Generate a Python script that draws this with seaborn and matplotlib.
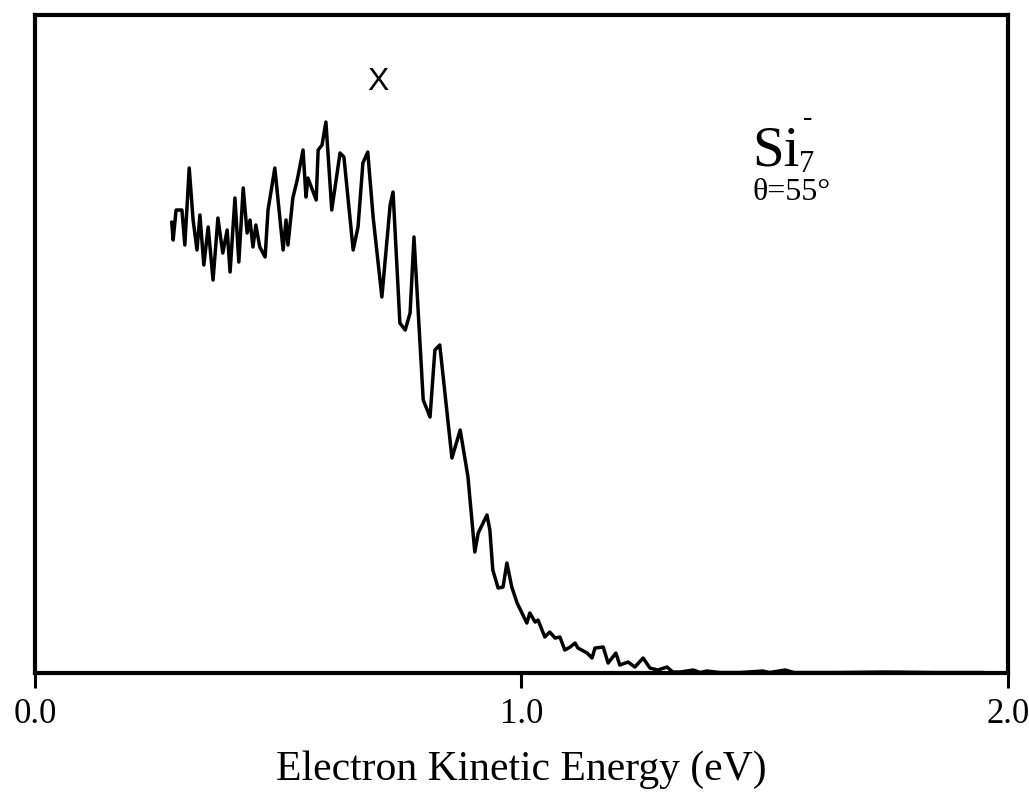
import matplotlib
matplotlib.use("Agg")
import matplotlib.pyplot as plt
import seaborn as sns
import pandas as pd

# Electron kinetic energy (eV) and photoelectron intensity (arb. units)
energy = [0.281, 0.284, 0.290, 0.302, 0.308, 0.317, 0.325, 0.333, 0.339, 0.347,
          0.356, 0.366, 0.376, 0.386, 0.395, 0.401, 0.411, 0.419, 0.428, 0.436,
          0.442, 0.448, 0.454, 0.462, 0.473, 0.479, 0.493, 0.510, 0.516, 0.520,
          0.530, 0.539, 0.551, 0.557, 0.561, 0.578, 0.582, 0.590, 0.598, 0.610,
          0.627, 0.635, 0.654, 0.664, 0.674, 0.684, 0.695, 0.713, 0.730, 0.736,
          0.750, 0.761, 0.771, 0.779, 0.798, 0.812, 0.822, 0.832, 0.857, 0.874,
          0.890, 0.904, 0.911, 0.929, 0.935, 0.941, 0.952, 0.962, 0.970, 0.980,
          0.991, 1.011, 1.017, 1.028, 1.034, 1.048, 1.058, 1.069, 1.079, 1.089,
          1.100, 1.110, 1.116, 1.135, 1.145, 1.151, 1.168, 1.178, 1.194, 1.202,
          1.219, 1.233, 1.250, 1.264, 1.280, 1.299, 1.311, 1.326, 1.353, 1.367,
          1.381, 1.408, 1.450, 1.496, 1.510, 1.542, 1.560, 1.650, 1.750, 1.850,
          1.950]
intensity = [451, 433, 463, 463, 428, 505, 453, 423, 458, 408,
             446, 393, 455, 420, 443, 401, 475, 411, 485, 440,
             453, 426, 448, 426, 416, 463, 505, 423, 453, 428,
             475, 493, 523, 476, 495, 473, 523, 528, 551, 463,
             520, 516, 423, 446, 510, 521, 456, 376, 468, 481,
             350, 343, 360, 436, 273, 256, 323, 328, 215, 243,
             196, 121, 140, 158, 143, 103, 85, 86, 110, 86,
             70, 50, 60, 51, 53, 36, 41, 35, 36, 23,
             26, 30, 25, 20, 15, 25, 26, 10, 20, 8,
             11, 6, 15, 5, 3, 6, 1, 1, 3, 0.5,
             2, 0.5, 0.5, 2, 0.5, 3, 0.5, 0.5, 1, 0.5,
             0.5]

xticks = [0.0, 1.0, 2.0]
xtick_labels = ["0.0", "1.0", "2.0"]

df = pd.DataFrame({"energy": energy, "intensity": intensity})

sns.set_style("white")
plt.rcParams["font.family"] = ["Liberation Serif", "DejaVu Serif"]
plt.rcParams["text.color"] = "black"
plt.rcParams["axes.labelcolor"] = "black"

fig = plt.figure(figsize=(10.29, 8.02), dpi=100)
ax = fig.add_axes([0.034, 0.1608, 0.9456, 0.8205])

sns.lineplot(data=df, x="energy", y="intensity", ax=ax, color="black",
             linewidth=2.5, estimator=None, sort=False)

ax.set_xlim(0, 2.0)
ax.set_ylim(0, 658)
ax.set_xticks(xticks)
ax.set_xticklabels(xtick_labels, fontsize=25, color="black")
ax.set_yticks([])
ax.set_ylabel("")
ax.set_xlabel("Electron Kinetic Energy (eV)", fontsize=30, color="black")
ax.xaxis.set_label_coords(0.5, -0.147)
ax.xaxis.label.set_va("center")
ax.tick_params(axis="x", direction="out", length=11, width=2.2, pad=7,
               bottom=True, colors="black")
for s in ax.spines.values():
    s.set_visible(True)
    s.set_linewidth(3)
    s.set_color("black")

ax.text(0.705, 591, "X", fontsize=23, family=["Liberation Sans", "DejaVu Sans"],
        ha="center", va="center", color="black")
ax.text(1.474, 508, "Si", fontsize=41, ha="left", va="baseline", color="black")
ax.text(1.570, 501, "7", fontsize=22, ha="left", va="baseline", color="black")
ax.text(1.578, 548, "-", fontsize=20, ha="left", va="baseline", color="black")
ax.text(1.474, 481, "θ=55°", fontsize=23, ha="left", va="center", color="black")

fig.savefig("out.png", dpi=100)
